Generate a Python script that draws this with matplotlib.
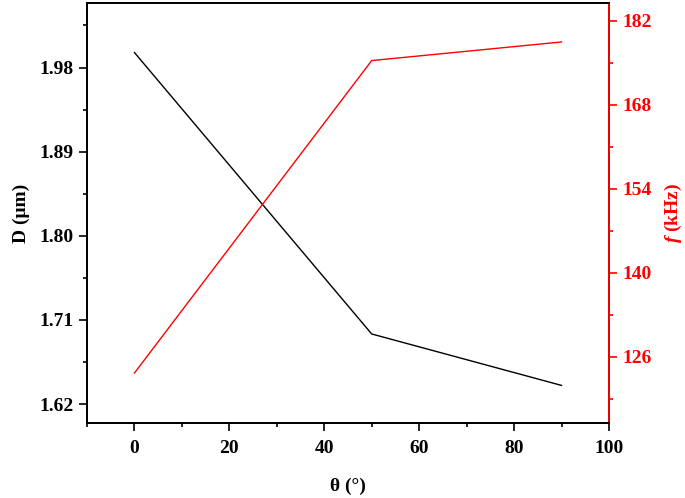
import matplotlib
matplotlib.use("Agg")
import matplotlib.pyplot as plt
from matplotlib.ticker import MultipleLocator

plt.rcParams['font.family'] = ['Liberation Serif', 'DejaVu Serif']
plt.rcParams['font.weight'] = 'bold'
plt.rcParams['mathtext.fontset'] = 'custom'
plt.rcParams['mathtext.it'] = 'Liberation Serif:italic:bold'
plt.rcParams['mathtext.rm'] = 'Liberation Serif:bold'

theta = [0, 50, 90]
diameter = [1.996, 1.695, 1.640]
freq = [123.3, 175.4, 178.5]

d_ticks = [1.62, 1.71, 1.80, 1.89, 1.98]
f_ticks = [126, 140, 154, 168, 182]

fig, ax = plt.subplots(figsize=(6.85, 4.98), dpi=100)
fig.subplots_adjust(left=0.127, right=0.889, top=0.994, bottom=0.151)

ax.plot(theta, diameter, color='black', lw=1.0)
ax.set_xlim(-10, 100)
ax.set_ylim(1.60, 2.049)
ax.set_xticks([0, 20, 40, 60, 80, 100])
ax.xaxis.set_minor_locator(MultipleLocator(10))
ax.set_yticks(d_ticks)
ax.set_yticklabels(['%.2f' % v for v in d_ticks])
ax.yaxis.set_minor_locator(MultipleLocator(0.045))
ax.tick_params(which='major', direction='out', length=6, width=1.2, labelsize=14)
ax.tick_params(which='minor', direction='out', length=3, width=1.2)
ax.tick_params(axis='x', which='major', pad=6.5)
for s in ax.spines.values():
    s.set_linewidth(1.3)
ax.set_xlabel('θ (°)', fontsize=14, fontweight='bold', labelpad=15)
ax.set_ylabel('D (μm)', fontsize=14, fontweight='bold', labelpad=7)

ax2 = ax.twinx()
ax2.plot(theta, freq, color='red', lw=1.0)
ax2.set_ylim(115, 185)
ax2.set_yticks(f_ticks)
ax2.yaxis.set_minor_locator(MultipleLocator(7))
ax2.tick_params(which='major', direction='out', length=6, width=1.2, labelsize=14,
                colors='red')
ax2.tick_params(which='minor', direction='out', length=3, width=1.2, colors='red')
for s in ax2.spines.values():
    s.set_linewidth(1.3)
ax2.spines['right'].set_color('red')
ax2.set_ylabel(r'$\mathit{f}$ (kHz)', fontsize=14, fontweight='bold', color='red',
               labelpad=8)

fig.savefig('out.png', dpi=100)
